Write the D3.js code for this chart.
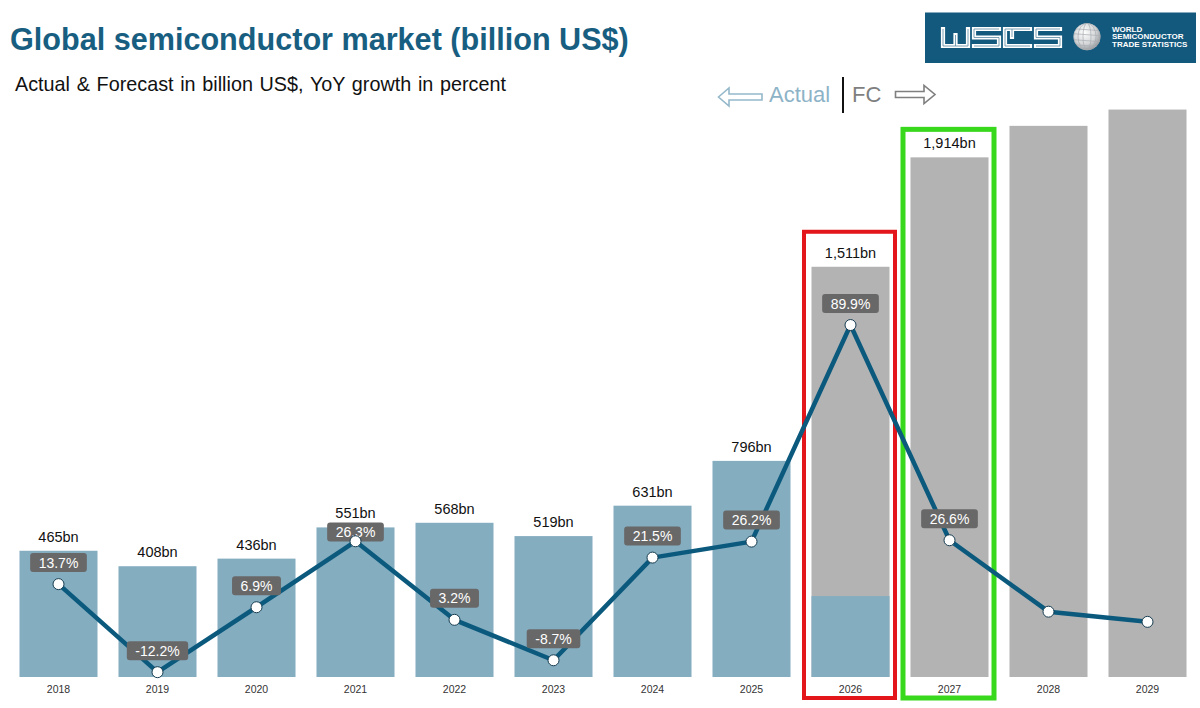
<!DOCTYPE html>
<html>
<head>
<meta charset="utf-8">
<script src="https://cdn.jsdelivr.net/npm/d3@7"></script>
<style>
  body { margin: 0; background: #fff; }
  svg { display: block; font-family: "Liberation Sans", Arial, sans-serif; }
</style>
</head>
<body>
<svg id="chart"></svg>
<script>
"use strict";

// chart data
const years = ["2018", "2019", "2020", "2021", "2022", "2023", "2024", "2025", "2026", "2027", "2028", "2029"];
const market = [465, 408, 436, 551, 568, 519, 631, 796, 1511, 1914, 2030, 2090];
const marketLabels = ["465bn", "408bn", "436bn", "551bn", "568bn", "519bn", "631bn", "796bn", "1,511bn", "1,914bn", null, null];
const actualPart = [465, 408, 436, 551, 568, 519, 631, 796, 298, 0, 0, 0];
const growth = [13.7, -12.2, 6.9, 26.3, 3.2, -8.7, 21.5, 26.2, 89.9, 26.6, 5.6, 2.6];
const growthLabels = ["13.7%", "-12.2%", "6.9%", "26.3%", "3.2%", "-8.7%", "21.5%", "26.2%", "89.9%", "26.6%", null, null];
const highlights = [
    {year: "2026", color: "#e3171b", width: 4, above: 35},
    {year: "2027", color: "#38d81c", width: 5, above: 28}
];

const width = 1200, height = 708;
const BASE_Y = 677;

const ACTUAL_COLOR = "#84adc0";
const FC_COLOR = "#b3b3b3";
const LINE_COLOR = "#0b5a7e";
const TITLE_COLOR = "#175e81";

const svg = d3.select("#chart")
    .attr("width", width)
    .attr("height", height);

svg.append("rect")
    .attr("width", width)
    .attr("height", height)
    .attr("fill", "white");

// scales
const x = d3.scaleBand()
    .domain(years)
    .range([9, 1197])
    .paddingInner(0.212)
    .paddingOuter(0.106);

const y = d3.scaleLinear()
    .domain([0, 2000])
    .range([BASE_Y, BASE_Y - 543]);

const yg = d3.scaleLinear()
    .domain([0, 100])
    .range([630.7, 290.7]);

const rows = years.map(function (yr, i) {
    return {year: yr, value: market[i], label: marketLabels[i], actual: actualPart[i],
            growth: growth[i], glabel: growthLabels[i], fc: i >= 8};
});

// title & subtitle
svg.append("text")
    .attr("x", 10)
    .attr("y", 50)
    .attr("fill", TITLE_COLOR)
    .attr("font-size", 30.6)
    .attr("font-weight", "bold")
    .text("Global semiconductor market (billion US$)");

svg.append("text")
    .attr("x", 15)
    .attr("y", 91)
    .attr("fill", "#111")
    .attr("font-size", 19.8)
    .attr("word-spacing", 1.2)
    .text("Actual & Forecast in billion US$, YoY growth in percent");

// WSTS logo
const logo = svg.append("g").attr("class", "logo");
logo.append("rect")
    .attr("x", 925).attr("y", 12.5)
    .attr("width", 271).attr("height", 50.5)
    .attr("fill", "#13597d");

const letterPaths = [
    "M0,0 V17 H25 V0 M12.5,6 V17",
    "M25,0 H0 V8.5 H25 V17 H0",
    "M25,0 H0 V17 H25 M7,0 V8",
    "M24,0 H0 V8.5 H24 V17 H0"
];
letterPaths.forEach(function (p, i) {
    const g = logo.append("g").attr("transform", "translate(" + (943 + i * 31) + ",29)");
    g.append("path").attr("d", p).attr("fill", "none")
        .attr("stroke", "white").attr("stroke-width", 4.2).attr("stroke-linejoin", "miter").attr("stroke-linecap", "square");
    g.append("path").attr("d", p).attr("fill", "none")
        .attr("stroke", "#5c8aa3").attr("stroke-width", 0.8);
});

const defs = svg.append("defs");
const grad = defs.append("radialGradient").attr("id", "globe")
    .attr("cx", "40%").attr("cy", "35%").attr("r", "70%");
grad.append("stop").attr("offset", "0%").attr("stop-color", "#ffffff");
grad.append("stop").attr("offset", "60%").attr("stop-color", "#d4d6d8");
grad.append("stop").attr("offset", "100%").attr("stop-color", "#8e9296");
defs.append("clipPath").attr("id", "globeClip")
    .append("circle").attr("cx", 1087).attr("cy", 36.7).attr("r", 13.5);

logo.append("circle")
    .attr("cx", 1087).attr("cy", 36.7).attr("r", 13.5)
    .attr("fill", "url(#globe)");
const grid = logo.append("g").attr("clip-path", "url(#globeClip)")
    .attr("fill", "none").attr("stroke", "#a9adb1").attr("stroke-width", 0.7);
[4, 9, 13.5].forEach(function (rx) {
    grid.append("ellipse").attr("cx", 1087).attr("cy", 36.7).attr("rx", rx).attr("ry", 13.5);
});
[-8, -3, 3, 8].forEach(function (dy) {
    grid.append("line").attr("x1", 1073).attr("x2", 1101)
        .attr("y1", 36.7 + dy).attr("y2", 36.7 + dy + 2);
});

logo.selectAll(".logotext")
    .data(["WORLD", "SEMICONDUCTOR", "TRADE STATISTICS"])
    .join("text")
    .attr("x", 1112)
    .attr("y", function (d, i) { return 31.5 + i * 7.6; })
    .attr("fill", "white")
    .attr("font-size", 8)
    .attr("font-weight", "bold")
    .text(function (d) { return d; });

// Actual | FC legend
svg.append("path")
    .attr("d", "M718.5,97 L729,88 V94 H762 V100 H729 V106 Z")
    .attr("fill", "none").attr("stroke", "#94b8ca").attr("stroke-width", 1.6);
svg.append("text")
    .attr("x", 769).attr("y", 102)
    .attr("fill", "#8db3c7").attr("font-size", 22)
    .text("Actual");
svg.append("line")
    .attr("x1", 843).attr("x2", 843).attr("y1", 77).attr("y2", 113)
    .attr("stroke", "#111").attr("stroke-width", 2);
svg.append("text")
    .attr("x", 852).attr("y", 102)
    .attr("fill", "#7f7f7f").attr("font-size", 22)
    .text("FC");
svg.append("path")
    .attr("d", "M895.5,91.5 H924 V85.5 L935,94.5 L924,103.5 V97.5 H895.5 Z")
    .attr("fill", "none").attr("stroke", "#7f7f7f").attr("stroke-width", 1.6);

// bars
svg.append("g").selectAll("rect")
    .data(rows)
    .join("rect")
    .attr("x", function (d) { return x(d.year); })
    .attr("width", x.bandwidth())
    .attr("y", function (d) { return y(d.value); })
    .attr("height", function (d) { return BASE_Y - y(d.value); })
    .attr("fill", function (d) { return d.fc ? FC_COLOR : ACTUAL_COLOR; });

// actual share inside forecast bars
svg.append("g").selectAll("rect")
    .data(rows.filter(function (d) { return d.fc && d.actual > 0; }))
    .join("rect")
    .attr("x", function (d) { return x(d.year); })
    .attr("width", x.bandwidth())
    .attr("y", function (d) { return y(d.actual); })
    .attr("height", function (d) { return BASE_Y - y(d.actual); })
    .attr("fill", ACTUAL_COLOR);

// value labels
svg.append("g").selectAll("text")
    .data(rows.filter(function (d) { return d.label; }))
    .join("text")
    .attr("x", function (d) { return x(d.year) + x.bandwidth() / 2; })
    .attr("y", function (d) { return y(d.value) - 9; })
    .attr("text-anchor", "middle")
    .attr("fill", "#111")
    .attr("font-size", 14.5)
    .text(function (d) { return d.label; });

// year axis labels
const xAxis = d3.axisBottom(x).tickSize(0).tickPadding(9);
const axisG = svg.append("g")
    .attr("transform", "translate(0," + BASE_Y + ")")
    .call(xAxis);
axisG.select(".domain").remove();
axisG.selectAll("text")
    .attr("font-size", 10.5)
    .attr("font-family", "Liberation Sans, Arial, sans-serif")
    .attr("fill", "#333");

// highlight frames
highlights.forEach(function (h) {
    const i = years.indexOf(h.year);
    svg.append("rect")
        .attr("x", x(h.year) - 7.5)
        .attr("width", x.bandwidth() + 13)
        .attr("y", y(market[i]) - h.above)
        .attr("height", BASE_Y + 21 - (y(market[i]) - h.above))
        .attr("fill", "none")
        .attr("stroke", h.color)
        .attr("stroke-width", h.width);
});

// growth line
const cx = function (d) { return x(d.year) + x.bandwidth() / 2; };
const line = d3.line()
    .x(cx)
    .y(function (d) { return yg(d.growth); });

svg.append("path")
    .datum(rows)
    .attr("d", line)
    .attr("fill", "none")
    .attr("stroke", LINE_COLOR)
    .attr("stroke-width", 4.5)
    .attr("stroke-linejoin", "round");

// growth labels: sit above the point, but never over the bar's value label
const labelY = function (d) {
    const wanted = yg(d.growth) - 21.5;
    const minY = y(d.value) - 9 + 4 + 9.5;
    return Math.max(wanted, minY);
};

const gl = svg.append("g").selectAll("g")
    .data(rows.filter(function (d) { return d.glabel; }))
    .join("g")
    .attr("transform", function (d) { return "translate(" + cx(d) + "," + labelY(d) + ")"; });

gl.append("text")
    .attr("text-anchor", "middle")
    .attr("dy", "0.36em")
    .attr("fill", "white")
    .attr("font-size", 14)
    .text(function (d) { return d.glabel; })
    .each(function () {
        const w = this.getComputedTextLength();
        d3.select(this.parentNode).insert("rect", "text")
            .attr("x", -w / 2 - 8.5)
            .attr("y", -9.5)
            .attr("width", w + 17)
            .attr("height", 19)
            .attr("rx", 3)
            .attr("fill", "#686868");
    });

// points
svg.append("g").selectAll("circle")
    .data(rows)
    .join("circle")
    .attr("cx", cx)
    .attr("cy", function (d) { return yg(d.growth); })
    .attr("r", 5.5)
    .attr("fill", "white")
    .attr("stroke", "#163c50")
    .attr("stroke-width", 1);
</script>
</body>
</html>
